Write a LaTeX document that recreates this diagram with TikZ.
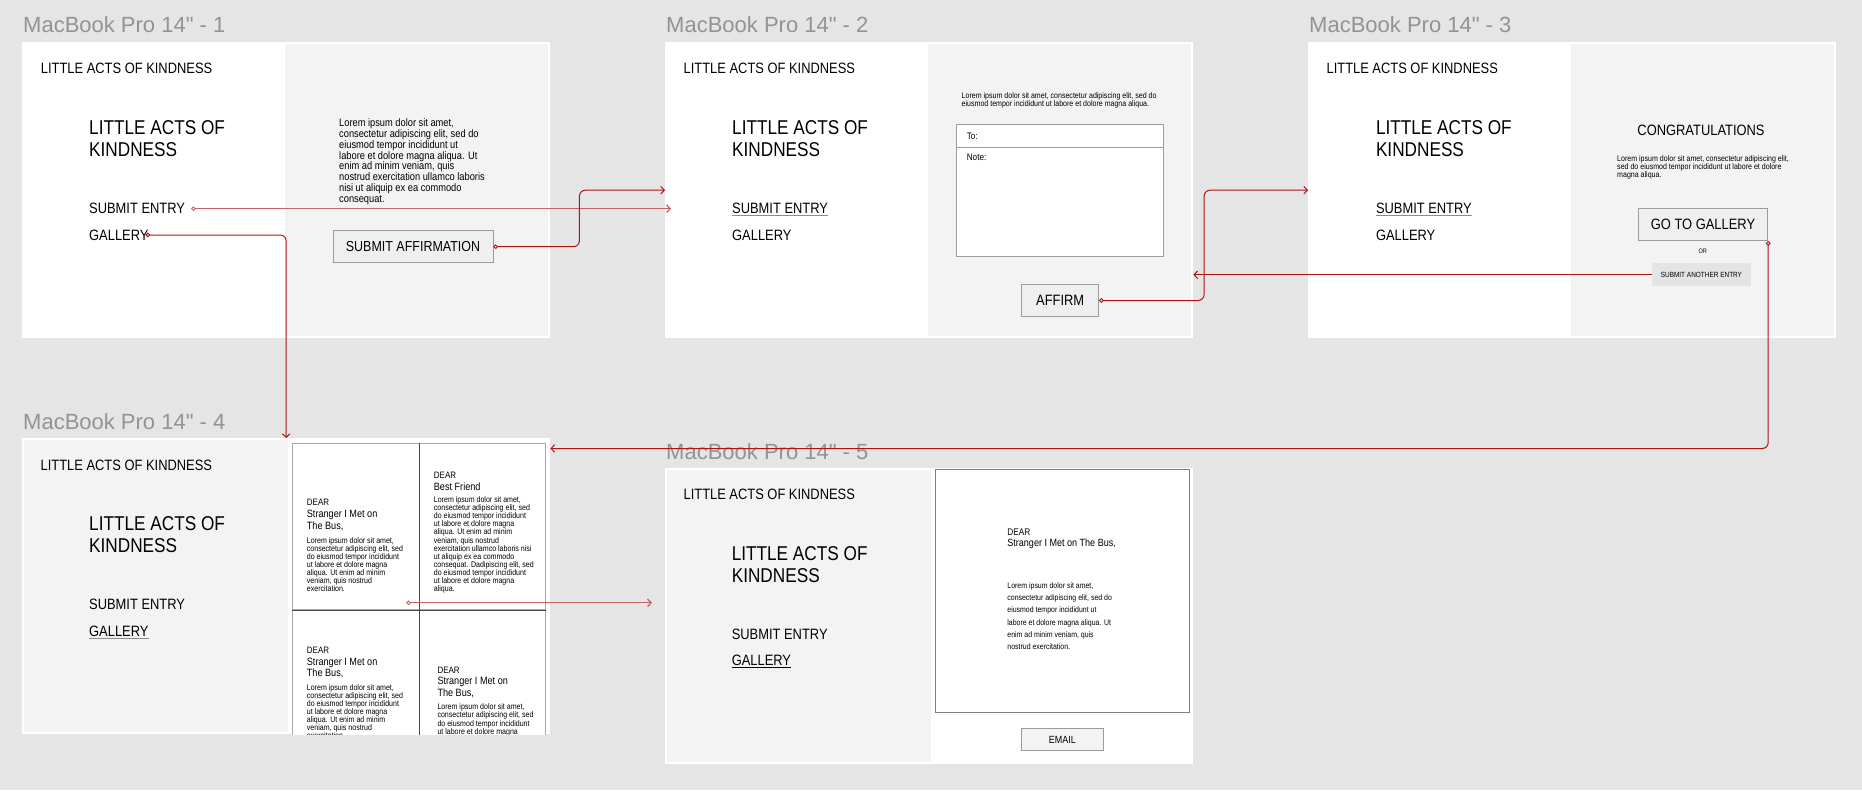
\documentclass[tikz,border=0pt]{standalone}
\usepackage{fontspec}
\setmainfont{Liberation Sans}[FakeStretch=0.86]
\newfontfamily\framefont{Liberation Sans}
\usetikzlibrary{arrows.meta}
\definecolor{canvas}{HTML}{E5E5E5}
\definecolor{panelgray}{HTML}{F3F3F3}
\definecolor{titlegray}{HTML}{939393}
\definecolor{linkred}{HTML}{B01212}
\definecolor{palered}{HTML}{C46464}
\definecolor{btnfill}{HTML}{EFEFEF}
\definecolor{btnline}{HTML}{9C9C9C}
\definecolor{chipfill}{HTML}{E4E4E4}
\definecolor{cellline}{HTML}{A8A8A8}

\begin{document}
\begin{tikzpicture}[x=1pt,y=-1pt,
  frame/.style={anchor=north west,fill=white,inner sep=0pt,minimum width=528pt,minimum height=296pt},
  panel/.style={anchor=north west,fill=panelgray,inner sep=0pt,minimum width=264pt,minimum height=292pt},
  frametitle/.style={anchor=west,inner sep=0pt,text=titlegray,font=\framefont\fontsize{22}{27}\selectfont},
  nav/.style={anchor=west,inner sep=0pt,font=\fontsize{15}{18}\selectfont},
  bigtitle/.style={anchor=north west,inner sep=0pt,align=left,font=\fontsize{20}{21.3}\selectfont},
  button/.style={draw=btnline,fill=btnfill,line width=0.8pt,inner sep=0pt,font=\fontsize{15}{18}\selectfont},
  lorem/.style={anchor=north west,inner sep=0pt,align=left,font=\fontsize{8.2}{8.13}\selectfont},
  dear/.style={anchor=west,inner sep=0pt,font=\fontsize{9.3}{11}\selectfont},
  addressee/.style={anchor=north west,inner sep=0pt,align=left,font=\fontsize{10.6}{11.3}\selectfont},
  field/.style={anchor=north west,draw=btnline,fill=white,line width=0.8pt,inner sep=0pt,minimum width=206.4pt},
  cell/.style={anchor=north west,draw=cellline,fill=white,line width=0.8pt,inner sep=0pt,minimum width=126.8pt,minimum height=166.6pt},
  divider/.style={draw=black!72,line width=0.9pt},
  uline/.style={draw=black!45,line width=1.2pt},
  link/.style={draw=linkred,line width=1pt,rounded corners=6pt,-{Straight Barb[length=3.5pt,width=7.5pt]}},
  dotlink/.style={link,{Circle[open,length=4.5pt,line width=0.9pt]}-{Straight Barb[length=3.5pt,width=7.5pt]}},
  palelink/.style={dotlink,draw=palered,line width=1.3pt},
  ]
\useasboundingbox (0,0) rectangle (1862,790);
\fill[canvas] (0,0) rectangle (1862,790);

% frames
\node[frame] (f1) at (22,42) {};
\node[frame] (f2) at (665,42) {};
\node[frame] (f3) at (1308,42) {};
\node[frame] (f4) at (22,438) {};
\node[frame] (f5) at (665,468) {};
\node[panel,minimum width=263pt] (p1) at (285,44) {};
\node[panel,minimum width=263pt] (p2) at (928,44) {};
\node[panel,minimum width=263pt] (p3) at (1571,44) {};
\node[panel] (p4) at (24,440) {};
\node[panel] (p5) at (667,470) {};

\node[frametitle] (t1) at (23,25) {MacBook Pro 14" - 1};
\node[frametitle] (t2) at (666,25) {MacBook Pro 14" - 2};
\node[frametitle] (t3) at (1309,25) {MacBook Pro 14" - 3};
\node[frametitle] (t4) at (23,421.5) {MacBook Pro 14" - 4};
\node[frametitle] (t5) at (666,451.3) {MacBook Pro 14" - 5};

% frame 1
\node[nav] (brand1) at (40.7,68.7) {LITTLE ACTS OF KINDNESS};
\node[bigtitle] (big1) at (89,120.8) {LITTLE ACTS OF\\KINDNESS};
\node[nav] (se1) at (89,208.7) {SUBMIT ENTRY};
\node[nav] (gal1) at (89,235) {GALLERY};
\node[lorem,font=\fontsize{10.8}{10.8}\selectfont] (lorem1) at (339,118.6) {Lorem ipsum dolor sit amet,\\consectetur adipiscing elit, sed do\\eiusmod tempor incididunt ut\\labore et dolore magna aliqua. Ut\\enim ad minim veniam, quis\\nostrud exercitation ullamco laboris\\nisi ut aliquip ex ea commodo\\consequat.};
\node[button,minimum width=160pt,minimum height=32pt,font=\fontsize{14.5}{18}\selectfont] (btnaff) at (413,246.7) {SUBMIT AFFIRMATION};

% frame 2
\node[nav] (brand2) at (683.5,68.7) {LITTLE ACTS OF KINDNESS};
\node[bigtitle] (big2) at (732,120.8) {LITTLE ACTS OF\\KINDNESS};
\node[nav] (se2) at (732,208.7) {SUBMIT ENTRY};
\node[nav] (gal2) at (732,235) {GALLERY};
\draw[uline] ([yshift=-1.5pt]se2.south west) -- ([yshift=-1.5pt]se2.south east);
\node[lorem,font=\fontsize{8.2}{8.3}\selectfont] (lorem2) at (961.5,92) {Lorem ipsum dolor sit amet, consectetur adipiscing elit, sed do\\eiusmod tempor incididunt ut labore et dolore magna aliqua.};
\node[field,minimum height=23.6pt] (tofield) at (956.3,123.7) {};
\node[field,minimum height=109pt] (notefield) at (956.3,147.3) {};
\node[anchor=west,inner sep=0pt,font=\fontsize{9.5}{11}\selectfont] (tolabel) at (966.6,136) {To:};
\node[anchor=west,inner sep=0pt,font=\fontsize{9.5}{11}\selectfont] (notelabel) at (966.6,157.7) {Note:};
\node[button,minimum width=77pt,minimum height=32.4pt] (btnaffirm) at (1060.2,300.5) {AFFIRM};

% frame 3
\node[nav] (brand3) at (1326.4,68.7) {LITTLE ACTS OF KINDNESS};
\node[bigtitle] (big3) at (1375.8,120.8) {LITTLE ACTS OF\\KINDNESS};
\node[nav] (se3) at (1375.8,208.7) {SUBMIT ENTRY};
\node[nav] (gal3) at (1375.8,235) {GALLERY};
\draw[uline] ([yshift=-1.5pt]se3.south west) -- ([yshift=-1.5pt]se3.south east);
\node[nav,anchor=center] (congrats) at (1701,130.3) {CONGRATULATIONS};
\node[lorem,font=\fontsize{8.2}{8.2}\selectfont] (lorem3) at (1617,155) {Lorem ipsum dolor sit amet, consectetur adipiscing elit,\\sed do eiusmod tempor incididunt ut labore et dolore\\magna aliqua.};
\node[button,minimum width=129.6pt,minimum height=32pt] (btngallery) at (1703,224.7) {GO TO GALLERY};
\node[inner sep=0pt,font=\fontsize{6.5}{8}\selectfont] (orlabel) at (1702.8,251.7) {OR};
\node[fill=chipfill,inner sep=0pt,minimum width=98.7pt,minimum height=22.7pt,font=\fontsize{7.5}{9}\selectfont] (another) at (1701.4,274.7) {SUBMIT ANOTHER ENTRY};

% frame 4
\node[nav] (brand4) at (40.5,465) {LITTLE ACTS OF KINDNESS};
\node[bigtitle] (big4) at (89,516.8) {LITTLE ACTS OF\\KINDNESS};
\node[nav] (se4) at (89,604.7) {SUBMIT ENTRY};
\node[nav] (gal4) at (89,631.3) {GALLERY};
\draw[uline] ([yshift=-1.5pt]gal4.south west) -- ([yshift=-1.5pt]gal4.south east);
\begin{scope}
\clip (f4.north west) rectangle (f4.south east);
\node[cell] (celltl) at (291.7,442.7) {};
\node[cell] (celltr) at (418.5,442.7) {};
\node[cell] (cellbl) at (291.7,609.3) {};
\node[cell] (cellbr) at (418.5,609.3) {};
\draw[divider] (celltl.north east) -- (cellbl.south east);
\draw[divider] (celltl.south west) -- (celltr.south east);
\node[dear] (deartl) at (306.7,502.7) {DEAR};
\node[addressee] (nametl) at (306.7,510.2) {Stranger I Met on\\The Bus,};
\node[lorem] (loremtl) at (306.7,537) {Lorem ipsum dolor sit amet,\\consectetur adipiscing elit, sed\\do eiusmod tempor incididunt\\ut labore et dolore magna\\aliqua. Ut enim ad minim\\veniam, quis nostrud\\exercitation.};
\node[dear] (deartr) at (433.7,475) {DEAR};
\node[addressee] (nametr) at (433.7,482.2) {Best Friend};
\node[lorem] (loremtr) at (433.7,496.3) {Lorem ipsum dolor sit amet,\\consectetur adipiscing elit, sed\\do eiusmod tempor incididunt\\ut labore et dolore magna\\aliqua. Ut enim ad minim\\veniam, quis nostrud\\exercitation ullamco laboris nisi\\ut aliquip ex ea commodo\\consequat. Dadipiscing elit, sed\\do eiusmod tempor incididunt\\ut labore et dolore magna\\aliqua.};
\node[dear] (dearbl) at (306.7,650.7) {DEAR};
\node[addressee] (namebl) at (306.7,657.5) {Stranger I Met on\\The Bus,};
\node[lorem] (lorembl) at (306.7,684) {Lorem ipsum dolor sit amet,\\consectetur adipiscing elit, sed\\do eiusmod tempor incididunt\\ut labore et dolore magna\\aliqua. Ut enim ad minim\\veniam, quis nostrud\\exercitation.};
\node[dear] (dearbr) at (437.3,670.7) {DEAR};
\node[addressee] (namebr) at (437.3,677.2) {Stranger I Met on\\The Bus,};
\node[lorem] (lorembr) at (437.3,703.7) {Lorem ipsum dolor sit amet,\\consectetur adipiscing elit, sed\\do eiusmod tempor incididunt\\ut labore et dolore magna\\aliqua. Ut enim ad minim\\veniam, quis nostrud\\exercitation.};
\end{scope}

% frame 5
\node[nav] (brand5) at (683.4,494.5) {LITTLE ACTS OF KINDNESS};
\node[bigtitle] (big5) at (731.6,546.8) {LITTLE ACTS OF\\KINDNESS};
\node[nav] (se5) at (731.6,634.3) {SUBMIT ENTRY};
\node[nav] (gal5) at (731.6,660.8) {GALLERY};
\draw[uline,draw=black,line width=1pt] ([yshift=-1.5pt]gal5.south west) -- ([yshift=-1.5pt]gal5.south east);
\node[anchor=north west,draw=black!50,fill=white,line width=0.8pt,inner sep=0pt,minimum width=254.1pt,minimum height=243pt] (card5) at (935.2,469.3) {};
\node[dear,font=\fontsize{9.6}{11}\selectfont] (dear5) at (1007.2,531.7) {DEAR};
\node[addressee,font=\fontsize{10.5}{11.3}\selectfont] (name5) at (1007.2,538.9) {Stranger I Met on The Bus,};
\node[lorem,font=\fontsize{8.1}{12.3}\selectfont] (lorem5) at (1007.2,582.3) {Lorem ipsum dolor sit amet,\\consectetur adipiscing elit, sed do\\eiusmod tempor incididunt ut\\labore et dolore magna aliqua. Ut\\enim ad minim veniam, quis\\nostrud exercitation.};
\node[button,fill=panelgray,minimum width=82pt,minimum height=22.4pt,font=\fontsize{10.4}{12}\selectfont] (btnemail) at (1062.3,739.5) {EMAIL};

% prototype links
\draw[palelink] ([xshift=6pt]se1.east) -- ([xshift=6pt]se1.east -| f2.west);
\draw[dotlink] (btnaff.east) -- ([xshift=86pt]btnaff.east) |- (f2.west);
\draw[dotlink] ([xshift=-3pt]gal1.east) -| (f4.north);
\draw[dotlink] (btnaffirm.east) -- ([xshift=105pt]btnaffirm.east) |- (f3.west);
\draw[link] (another.west) -- (another.west -| f2.east);
\draw[dotlink] (btngallery.south east) |- ([yshift=-10.5pt]f4.north east);
\draw[palelink] ([xshift=-13pt,yshift=7.3pt]celltl.south east) -- ([xshift=-13pt,yshift=7.3pt]celltl.south east -| f5.west);
\end{tikzpicture}
\end{document}
